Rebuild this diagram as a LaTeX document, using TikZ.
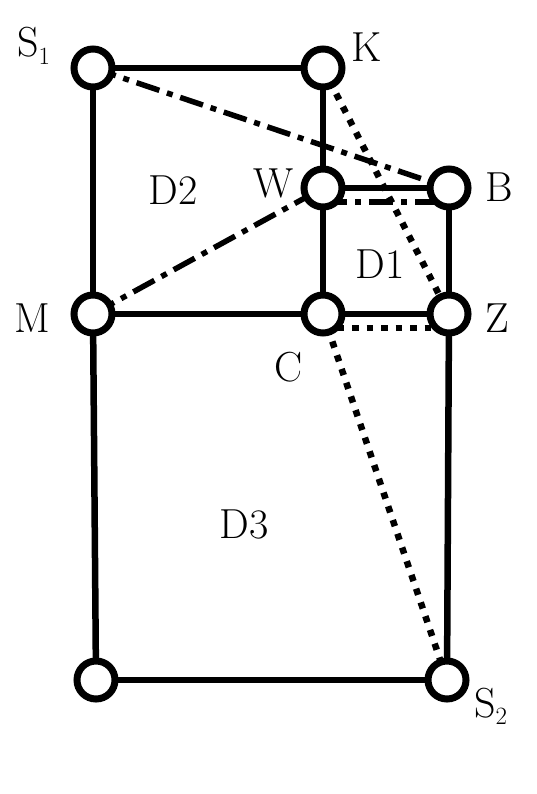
\documentclass[tikz,border=0pt]{standalone}
\usepackage{fontspec}
\setmainfont{Latin Modern Roman}
\usetikzlibrary{backgrounds,calc}
\begin{document}
\begin{tikzpicture}[x=1pt,y=-1pt,
  vert/.style={circle,draw,line width=7pt,fill=white,minimum size=38pt,inner sep=0pt},
  solidedge/.style={line width=6.5pt},
  dottededge/.style={line width=6.5pt,dash pattern=on 6.5pt off 8pt},
  dashdotedge/.style={line width=5.5pt,dash pattern=on 24pt off 8pt on 6pt off 8pt},
  lab/.style={font=\fontsize{42}{46}\selectfont,inner sep=0pt,anchor=base}]
\useasboundingbox (0,0) rectangle (537,794);
\node[vert] (S1) at (93,68) {};
\node[vert] (K) at (323,68) {};
\node[vert] (W) at (323,188) {};
\node[vert] (B) at (449,188) {};
\node[vert] (M) at (93,314) {};
\node[vert] (C) at (323,314) {};
\node[vert] (Z) at (449,314) {};
\node[vert] (L) at (96,680) {};
\node[vert] (S2) at (447,680) {};
\begin{scope}[on background layer]
\draw[solidedge] (S1.center) -- (K.center);
\draw[solidedge] (S1.center) -- (M.center);
\draw[solidedge] (M.center) -- (L.center);
\draw[solidedge] (L.center) -- (S2.center);
\draw[solidedge] (S2.center) -- (Z.center);
\draw[solidedge] (Z.center) -- (B.center);
\draw[solidedge] (K.center) -- (W.center);
\draw[solidedge] (W.center) -- (C.center);
\draw[solidedge] (M.center) -- (C.center);
\draw[solidedge] (C.center) -- (Z.center);
\draw[solidedge] (W.center) -- (B.center);
\draw[dashdotedge] (S1.center) -- (B.center);
\draw[dashdotedge] ([yshift=-14pt]W.center) -- ([yshift=-14pt]B.center);
\draw[dashdotedge] (M.center) -- (W.center);
\draw[dottededge] (K.center) -- (Z.center);
\draw[dottededge] ([yshift=-14pt]C.center) -- ([yshift=-14pt]Z.center);
\draw[dottededge] (C.center) -- (S2.center);
\end{scope}
\node[lab,anchor=base west] (lS1) at (17,57) {S$_{1}$};
\node[lab] (lK) at (367,62) {K};
\node[lab] (lW) at (274,198) {W};
\node[lab] (lB) at (499,202) {B};
\node[lab] (lD2) at (173,205) {D2};
\node[lab] (lD1) at (380,278) {D1};
\node[lab] (lM) at (32,332) {M};
\node[lab] (lZ) at (497,332) {Z};
\node[lab] (lC) at (289,381) {C};
\node[lab] (lD3) at (244,538) {D3};
\node[lab,anchor=base west] (lS2) at (474,717) {S$_{2}$};
\end{tikzpicture}
\end{document}
